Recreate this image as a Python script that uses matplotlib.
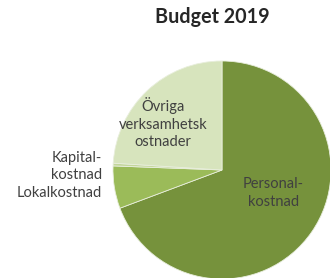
import matplotlib
matplotlib.use("Agg")
import matplotlib.pyplot as plt

plt.rcParams['font.family'] = ['Lato', 'DejaVu Sans']

# data (percent of budget)
kategorier = ['Personalkostnad', 'Lokalkostnad', 'Kapitalkostnad', 'Övriga verksamhetskostnader']
andel = [69.3, 6.3, 0.4, 24.0]
farger = ['#76923C', '#9BBB59', '#C3D69B', '#D7E4BD']

fig = plt.figure(figsize=(3.3, 2.78), dpi=100)
ax = fig.add_axes([113/330, -1/278, 218/330, 218/278])

ax.pie(andel, colors=farger, startangle=90, counterclock=False,
       wedgeprops=dict(linewidth=0.6, edgecolor='#E8EEDC'))
ax.set_xlim(-1, 1)
ax.set_ylim(-1, 1)
ax.set_aspect('equal')
ax.axis('off')

textfarg = '#404040'
ax.text(0.47, -0.21, 'Personal-\nkostnad', ha='center', va='center',
        fontsize=10.5, color=textfarg, linespacing=1.35)
ax.text(-0.54, 0.43, 'Övriga\nverksamhetsk\nostnader', ha='center', va='center',
        fontsize=10.5, color=textfarg, linespacing=1.35)
ax.text(-1.10, -0.05, 'Kapital-\nkostnad\nLokalkostnad', ha='right', va='center',
        fontsize=10.5, color=textfarg, linespacing=1.35, clip_on=False)

fig.text(212/330, 1 - 17/278, 'Budget 2019', ha='center', va='center',
         fontsize=14.2, fontweight='bold', color='#262626')

fig.savefig('out.png', dpi=100)
